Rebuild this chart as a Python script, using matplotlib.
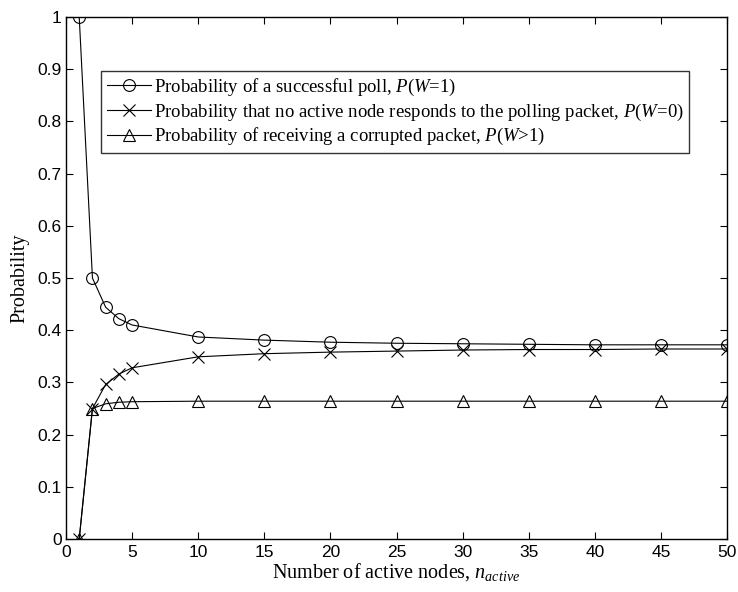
import matplotlib
matplotlib.use("Agg")
from matplotlib import pyplot as plt

# values
n_active = [1, 2, 3, 4, 5, 10, 15, 20, 25, 30, 35, 40, 45, 50]
p_success = [1.0, 0.5, 0.444, 0.422, 0.410, 0.387, 0.381, 0.377, 0.375, 0.374, 0.373, 0.372, 0.372, 0.372]
p_idle = [0.0, 0.25, 0.296, 0.316, 0.328, 0.349, 0.355, 0.358, 0.360, 0.362, 0.363, 0.363, 0.364, 0.364]
p_collision = [0.0, 0.25, 0.259, 0.262, 0.263, 0.264, 0.264, 0.264, 0.264, 0.264, 0.264, 0.264, 0.264, 0.264]

labels = [
    r"Probability of a successful poll, $P$($W$=1)",
    r"Probability that no active node responds to the polling packet, $P$($W$=0)",
    r"Probability of receiving a corrupted packet, $P$($W$>1)",
]

plt.rcParams["mathtext.fontset"] = "custom"
plt.rcParams["mathtext.it"] = "Liberation Serif:italic"
plt.rcParams["mathtext.rm"] = "Liberation Serif"

fig = plt.figure(figsize=(7.38, 5.92), dpi=100)
# axes box: x 66..727 px, y 17..539 px
ax = fig.add_axes([66 / 738, 1 - 539 / 592, 661 / 738, 522 / 592])

mk = dict(color="black", linewidth=0.8, markersize=8.5, markerfacecolor="none",
          markeredgecolor="black", markeredgewidth=0.8)
ax.plot(n_active, p_success, marker="o", label=labels[0], **mk)
ax.plot(n_active, p_idle, marker="x", label=labels[1], **mk)
ax.plot(n_active, p_collision, marker="^", label=labels[2], **mk)

ax.set_xlim(0, 50)
ax.set_ylim(0, 1)
ax.set_xticks(range(0, 51, 5))
ax.set_yticks([i / 10 for i in range(11)])
ax.set_yticklabels(["0", "0.1", "0.2", "0.3", "0.4", "0.5", "0.6", "0.7", "0.8", "0.9", "1"])
ax.tick_params(direction="in", top=True, right=True, length=5, width=0.8,
               labelsize=12.5)
ax.tick_params(axis="x", pad=4)
ax.tick_params(axis="y", pad=3)
for lab in ax.get_xticklabels() + ax.get_yticklabels():
    lab.set_family("Liberation Sans")
for sp in ax.spines.values():
    sp.set_linewidth(1.0)

ax.set_xlabel(r"Number of active nodes, $n_{active}$", family="Liberation Serif", fontsize=14.5, labelpad=1)
ax.set_ylabel("Probability", family="Liberation Serif", fontsize=14.5, labelpad=6)

leg = ax.legend(loc="upper left", bbox_to_anchor=(0.053, 0.8966), frameon=True, fancybox=False,
                edgecolor="black", prop={"family": "Liberation Serif", "size": 13.5},
                handlelength=2.35, borderpad=0.3, labelspacing=0.2, handletextpad=0.15,
                borderaxespad=0)
leg.get_frame().set_linewidth(1.0)

fig.savefig("out.png", dpi=100)
